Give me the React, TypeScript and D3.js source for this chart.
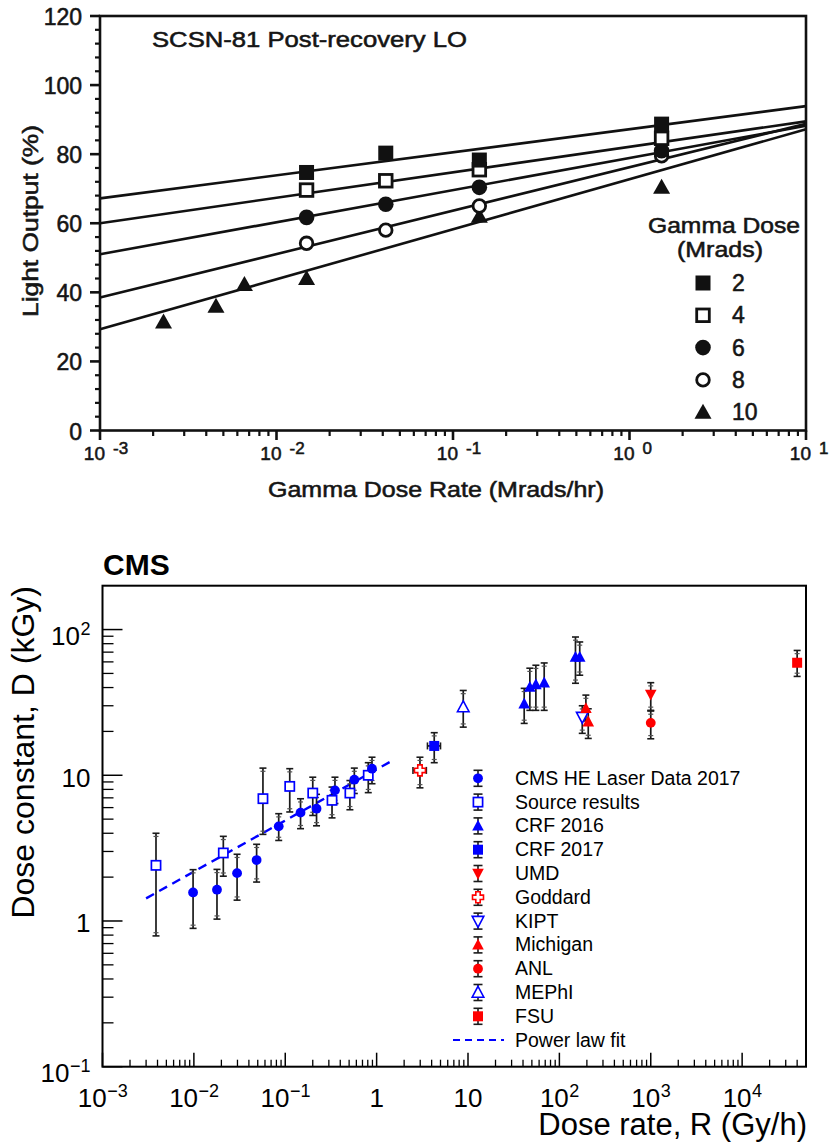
import React from "react";
import * as d3 from "d3";

// ================= TOP PANEL DATA (SCSN-81) =================
const topDoseLabels = ["2", "4", "6", "8", "10"];
const topShapes = ["fsquare", "osquare", "fcircle", "ocircle", "ftriangle"];
const topFitRates = [1e-3, 10];
const topFitLeft = [67.2, 60.0, 51.0, 38.5, 29.3];
const topFitRight = [93.9, 89.5, 88.2, 88.8, 87.2];

const rate2 = [0.0148, 0.0416, 0.141, 1.52];
const lo2 = [74.7, 80.3, 78.3, 88.7];
const rate4 = [0.0148, 0.0416, 0.141, 1.52];
const lo4 = [69.6, 72.3, 75.5, 84.6];
const rate6 = [0.0148, 0.0416, 0.141, 1.52];
const lo6 = [61.7, 65.5, 70.4, 81.0];
const rate8 = [0.0148, 0.0416, 0.141, 1.52];
const lo8 = [54.2, 58.0, 65.0, 79.5];
const rate10 = [0.00229, 0.00454, 0.00658, 0.0148, 0.141, 1.52];
const lo10 = [31.4, 36.0, 42.3, 44.0, 62.0, 70.4];

const topRates = [rate2, rate4, rate6, rate8, rate10];
const topValues = [lo2, lo4, lo6, lo8, lo10];
const topYTicks = [0, 20, 40, 60, 80, 100, 120];
const topXExps = [-3, -2, -1, 0, 1];

// ================= BOTTOM PANEL DATA (CMS) =================
const cmsR = [0.0098, 0.0179, 0.0297, 0.0486, 0.0848, 0.147, 0.22, 0.35, 0.57, 0.89];
const cmsD = [1.57, 1.64, 2.13, 2.62, 4.46, 5.54, 5.9, 7.88, 9.33, 11.1];
const cmsHi = [2.25, 2.26, 2.87, 3.36, 5.45, 6.9, 7.4, 9.7, 11.2, 13.3];
const cmsLo = [0.89, 1.03, 1.39, 1.85, 3.57, 4.3, 4.5, 6.4, 7.5, 8.75];

const srcR = [0.00385, 0.021, 0.057, 0.112, 0.2, 0.325, 0.51, 0.81];
const srcD = [2.41, 2.93, 6.91, 8.39, 7.55, 6.73, 7.55, 10.0];
const srcHi = [4.0, 3.81, 11.2, 11.1, 9.7, 8.3, 9.2, 12.2];
const srcLo = [0.79, 2.03, 3.93, 5.6, 5.3, 5.1, 5.8, 7.6];

const crf16R = [41.2, 47.5, 55.3, 68.2, 150, 167];
const crf16D = [31, 40.3, 42, 43.2, 64.7, 64.7];
const crf16Hi = [39.5, 54.3, 56.9, 59.0, 88.9, 82.2];
const crf16Lo = [22.7, 27.9, 27.9, 27.9, 42.8, 48.6];

const crf17R = [4.27];
const crf17D = [15.9];
const crf17Hi = [19.6];
const crf17Lo = [12.2];
const crf17RLo = [3.6];
const crf17RHi = [5.0];

const umdR = [1000];
const umdD = [35.9];
const umdHi = [43.2];
const umdLo = [27.9];

const goddardR = [2.98];
const goddardD = [10.8];
const goddardHi = [13.3];
const goddardLo = [8.2];
const goddardRLo = [2.5];
const goddardRHi = [3.5];

const kiptR = [178];
const kiptD = [25.1];
const kiptHi = [30.0];
const kiptLo = [19.4];

const michR = [195, 207];
const michD = [28.8, 23.3];
const michHi = [35.5, 28.6];
const michLo = [23.6, 17.9];

const anlR = [1000];
const anlD = [22.9];
const anlHi = [27.6];
const anlLo = [17.8];

const mephiR = [8.87];
const mephiD = [29.4];
const mephiHi = [38.2];
const mephiLo = [21.4];

const fsuR = [40000];
const fsuD = [59.2];
const fsuHi = [71.9];
const fsuLo = [47.7];

const fitR = [0.003, 1.5];
const fitD = [1.43, 12.65];

const legendNames = [
  "CMS HE Laser Data 2017",
  "Source results",
  "CRF 2016",
  "CRF 2017",
  "UMD",
  "Goddard",
  "KIPT",
  "Michigan",
  "ANL",
  "MEPhI",
  "FSU",
  "Power law fit",
];
const legendShapes = [
  "fcircle", "osquare", "ftri", "fsquare", "ftridown", "ocross",
  "otridown", "ftri", "fcircle", "otri", "fsquare", "dash",
];
const legendColors = [
  "#0000ff", "#0000ff", "#0000ff", "#0000ff", "#ff0000", "#ff0000",
  "#0000ff", "#ff0000", "#ff0000", "#0000ff", "#ff0000", "#0000ff",
];
const botXExps = [-3, -2, -1, 0, 1, 2, 3, 4];
const botYExps = [-1, 0, 1, 2];

const FONT = "'Liberation Sans', Arial, Helvetica, sans-serif";

// ---------- helpers ----------
function topMarker(shape: string, x: number, y: number, key: string) {
  const c = "#111";
  switch (shape) {
    case "fsquare":
      return <rect key={key} x={x - 7.5} y={y - 7.5} width={15} height={15} fill={c} />;
    case "osquare":
      return <rect key={key} x={x - 6.3} y={y - 6.3} width={12.6} height={12.6} fill="#fff" stroke={c} strokeWidth={2.8} />;
    case "fcircle":
      return <circle key={key} cx={x} cy={y} r={7.8} fill={c} />;
    case "ocircle":
      return <circle key={key} cx={x} cy={y} r={6.3} fill="#fff" stroke={c} strokeWidth={2.8} />;
    default:
      return <path key={key} d={`M${x},${y - 8.5}L${x + 8.5},${y + 6.5}L${x - 8.5},${y + 6.5}Z`} fill={c} />;
  }
}

function botMarker(shape: string, x: number, y: number, color: string, key: string) {
  const s = 5.2;
  switch (shape) {
    case "fcircle":
      return <circle key={key} cx={x} cy={y} r={4.9} fill={color} />;
    case "osquare":
      return <rect key={key} x={x - 4.6} y={y - 4.6} width={9.2} height={9.2} fill="#fff" stroke={color} strokeWidth={1.7} />;
    case "fsquare":
      return <rect key={key} x={x - 5} y={y - 5} width={10} height={10} fill={color} />;
    case "ftri":
      return <path key={key} d={`M${x},${y - s - 1}L${x + s + 0.6},${y + s - 0.5}L${x - s - 0.6},${y + s - 0.5}Z`} fill={color} />;
    case "otri":
      return <path key={key} d={`M${x},${y - s - 1}L${x + s + 0.6},${y + s - 0.5}L${x - s - 0.6},${y + s - 0.5}Z`} fill="#fff" stroke={color} strokeWidth={1.6} />;
    case "ftridown":
      return <path key={key} d={`M${x},${y + s + 1}L${x + s + 0.6},${y - s + 0.5}L${x - s - 0.6},${y - s + 0.5}Z`} fill={color} />;
    case "otridown":
      return <path key={key} d={`M${x},${y + s + 1}L${x + s + 0.6},${y - s + 0.5}L${x - s - 0.6},${y - s + 0.5}Z`} fill="#fff" stroke={color} strokeWidth={1.6} />;
    case "ocross": {
      const a = 2.2, b = 5.5;
      const d = `M${x - a},${y - b}H${x + a}V${y - a}H${x + b}V${y + a}H${x + a}V${y + b}H${x - a}V${y + a}H${x - b}V${y - a}H${x - a}Z`;
      return <path key={key} d={d} fill="#fff" stroke={color} strokeWidth={1.6} />;
    }
    default:
      return null;
  }
}

function supLabel(e: number) {
  if (e === 0) return { base: "1", exp: "" };
  if (e === 1) return { base: "10", exp: "" };
  return { base: "10", exp: e < 0 ? `\u2212${-e}` : `${e}` };
}

// approximate Liberation Sans advance widths (em)
function textW(s: string, fs: number) {
  let w = 0;
  for (const ch of s) w += ch === "\u2212" ? 0.584 : 0.556;
  return w * fs;
}

export default function App() {
  // ---------- top scales ----------
  const tx = d3.scaleLog().domain([1e-3, 10]).range([100, 806]);
  const ty = d3.scaleLinear().domain([0, 120]).range([430.5, 16]);
  const topLine = d3
    .line<[number, number]>()
    .x((d) => tx(d[0]))
    .y((d) => ty(d[1]));

  const topMinorY = d3.range(0, 121, 4).filter((v) => v % 20 !== 0);
  const topMinorX: number[] = [];
  for (let e = -3; e < 1; e++) for (let m = 2; m <= 9; m++) topMinorX.push(m * Math.pow(10, e));

  // ---------- bottom scales ----------
  const bx = d3.scaleLog().domain([1e-3, 5e4]).range([102.5, 806]);
  const by = d3.scaleLog().domain([0.1, 200]).range([1066.7, 585.7]);
  const fitLine = d3
    .line<number>()
    .x((_, i) => bx(fitR[i]))
    .y((_, i) => by(fitD[i]));

  const botMinorX: number[] = [];
  for (let e = -3; e <= 4; e++)
    for (let m = 2; m <= 9; m++) {
      const v = m * Math.pow(10, e);
      if (v < 5e4) botMinorX.push(v);
    }
  const botMinorY: number[] = [];
  for (let e = -1; e <= 1; e++) for (let m = 2; m <= 9; m++) botMinorY.push(m * Math.pow(10, e));

  type Ser = {
    r: number[]; d: number[]; hi: number[]; lo: number[];
    rlo?: number[]; rhi?: number[]; shape: string; color: string; name: string;
  };
  const series: Ser[] = [
    { r: srcR, d: srcD, hi: srcHi, lo: srcLo, shape: "osquare", color: "#0000ff", name: "src" },
    { r: cmsR, d: cmsD, hi: cmsHi, lo: cmsLo, shape: "fcircle", color: "#0000ff", name: "cms" },
    { r: crf16R, d: crf16D, hi: crf16Hi, lo: crf16Lo, shape: "ftri", color: "#0000ff", name: "crf16" },
    { r: crf17R, d: crf17D, hi: crf17Hi, lo: crf17Lo, rlo: crf17RLo, rhi: crf17RHi, shape: "fsquare", color: "#0000ff", name: "crf17" },
    { r: goddardR, d: goddardD, hi: goddardHi, lo: goddardLo, rlo: goddardRLo, rhi: goddardRHi, shape: "ocross", color: "#ff0000", name: "god" },
    { r: mephiR, d: mephiD, hi: mephiHi, lo: mephiLo, shape: "otri", color: "#0000ff", name: "mephi" },
    { r: kiptR, d: kiptD, hi: kiptHi, lo: kiptLo, shape: "otridown", color: "#0000ff", name: "kipt" },
    { r: michR, d: michD, hi: michHi, lo: michLo, shape: "ftri", color: "#ff0000", name: "mich" },
    { r: umdR, d: umdD, hi: umdHi, lo: umdLo, shape: "ftridown", color: "#ff0000", name: "umd" },
    { r: anlR, d: anlD, hi: anlHi, lo: anlLo, shape: "fcircle", color: "#ff0000", name: "anl" },
    { r: fsuR, d: fsuD, hi: fsuHi, lo: fsuLo, shape: "fsquare", color: "#ff0000", name: "fsu" },
  ];

  const errCol = "#1a1a1a";
  const errorBars = series.flatMap((s) =>
    s.r.map((r, i) => {
      const x = bx(r);
      const yH = by(s.hi[i]);
      const yL = by(s.lo[i]);
      const els = [
        <line key="v" x1={x} x2={x} y1={yH} y2={yL} stroke={errCol} strokeWidth={1.7} />,
        <line key="c1" x1={x - 3.5} x2={x + 3.5} y1={yH} y2={yH} stroke={errCol} strokeWidth={1.6} />,
        <line key="c2" x1={x - 3.5} x2={x + 3.5} y1={yL} y2={yL} stroke={errCol} strokeWidth={1.6} />,
        <line key="i1" x1={x - 2.5} x2={x + 2.5} y1={yH + 3.2} y2={yH + 3.2} stroke="#555" strokeWidth={1.2} />,
        <line key="i2" x1={x - 2.5} x2={x + 2.5} y1={yL - 3.2} y2={yL - 3.2} stroke="#555" strokeWidth={1.2} />,
      ];
      if (s.rlo && s.rhi) {
        const xl = bx(s.rlo[i]);
        const xh = bx(s.rhi[i]);
        const y = by(s.d[i]);
        els.push(
          <line key="h" x1={xl} x2={xh} y1={y} y2={y} stroke={errCol} strokeWidth={1.7} />,
          <line key="hc1" x1={xl} x2={xl} y1={y - 3.5} y2={y + 3.5} stroke={errCol} strokeWidth={1.6} />,
          <line key="hc2" x1={xh} x2={xh} y1={y - 3.5} y2={y + 3.5} stroke={errCol} strokeWidth={1.6} />
        );
      }
      return <g key={`${s.name}-e${i}`}>{els}</g>;
    })
  );
  const markers = series.flatMap((s) =>
    s.r.map((r, i) => botMarker(s.shape, bx(r), by(s.d[i]), s.color, `${s.name}-m${i}`))
  );

  const legX = 478;
  const legY0 = 778.3;
  const legDY = 23.8;

  const scanText = { fill: "#151515", stroke: "#151515", strokeWidth: 0.55 };
  const baseFs = 26;
  const expFs = 18;

  return (
    <svg
      width={829}
      height={1142}
      style={{ position: "absolute", left: 0, top: 0, background: "#fff" }}
      fontFamily={FONT}
    >
      <rect x={0} y={0} width={829} height={1142} fill="#fff" />

      {/* ===================== TOP PANEL ===================== */}
      <g>
        {/* fit lines */}
        {topFitLeft.map((l, i) => (
          <path
            key={`fit${i}`}
            d={topLine([
              [topFitRates[0], l],
              [topFitRates[1], topFitRight[i]],
            ]) || ""}
            fill="none"
            stroke="#111"
            strokeWidth={2.6}
          />
        ))}
        {/* points: draw 10 first so lighter doses are on top */}
        {[4, 3, 2, 1, 0].map((si) =>
          topRates[si].map((r, j) => topMarker(topShapes[si], tx(r), ty(topValues[si][j]), `tp${si}-${j}`))
        )}

        {/* frame */}
        <rect x={100} y={16} width={706} height={414.5} fill="none" stroke="#111" strokeWidth={2.6} />
        {/* y ticks */}
        {topYTicks.map((v) => (
          <g key={`ty${v}`}>
            <line x1={90} x2={100} y1={ty(v)} y2={ty(v)} stroke="#111" strokeWidth={2.6} />
            <text x={82} y={ty(v) + 9} textAnchor="end" fontSize={23} {...scanText}>
              {v}
            </text>
          </g>
        ))}
        {topMinorY.map((v) => (
          <line key={`tmy${v}`} x1={95} x2={100} y1={ty(v)} y2={ty(v)} stroke="#111" strokeWidth={2.2} />
        ))}
        {/* x ticks */}
        {topXExps.map((e) => {
          const x = tx(Math.pow(10, e));
          return (
            <g key={`tx${e}`}>
              <line x1={x} x2={x} y1={430.5} y2={440} stroke="#111" strokeWidth={2.6} />
              <text x={x + 5} y={460} textAnchor="end" fontSize={19} {...scanText}>
                10
              </text>
              <text x={x + 13} y={454} fontSize={17} {...scanText}>
                {e < 0 ? `-${-e}` : `${e}`}
              </text>
            </g>
          );
        })}
        {topMinorX.map((v, i) => (
          <line key={`tmx${i}`} x1={tx(v)} x2={tx(v)} y1={430.5} y2={436} stroke="#111" strokeWidth={2.2} />
        ))}
        {/* titles */}
        <text x={152} y={47} fontSize={22} {...scanText} textLength={315} lengthAdjust="spacingAndGlyphs">
          SCSN-81 Post-recovery LO
        </text>
        <text x={268} y={497} fontSize={22} {...scanText} textLength={336} lengthAdjust="spacingAndGlyphs">
          Gamma Dose Rate (Mrads/hr)
        </text>
        <text
          transform="translate(38,221) rotate(-90)"
          textAnchor="middle"
          fontSize={22}
          {...scanText}
          textLength={192}
          lengthAdjust="spacingAndGlyphs"
        >
          Light Output (%)
        </text>
        {/* legend */}
        <text x={648} y={233} fontSize={22} {...scanText} textLength={152} lengthAdjust="spacingAndGlyphs">
          Gamma Dose
        </text>
        <text x={677} y={257} fontSize={22} {...scanText} textLength={86} lengthAdjust="spacingAndGlyphs">
          (Mrads)
        </text>
        {topDoseLabels.map((lab, i) => {
          const y = 283 + i * 32.3;
          return (
            <g key={`tl${i}`}>
              {topMarker(topShapes[i], 703, y, `tlm${i}`)}
              <text x={732} y={y + 8} fontSize={23} {...scanText}>
                {lab}
              </text>
            </g>
          );
        })}
      </g>

      {/* ===================== BOTTOM PANEL ===================== */}
      <g>
        <text x={103} y={575} fontSize={30} fontWeight="bold" fill="#000">
          CMS
        </text>

        {/* fit line */}
        <path d={fitLine(fitR) || ""} fill="none" stroke="#0000ff" strokeWidth={2.4} strokeDasharray="9,6" />

        {errorBars}
        {markers}

        {/* frame */}
        <rect x={102.5} y={585.7} width={703.5} height={481} fill="none" stroke="#000" strokeWidth={2} />

        {/* y axis ticks */}
        {botYExps.map((e) => {
          const y = by(Math.pow(10, e));
          const lab = supLabel(e);
          const ew = lab.exp ? textW(lab.exp, expFs) : 0;
          const right = 90.5;
          return (
            <g key={`by${e}`}>
              <line x1={102.5} x2={122.5} y1={y} y2={y} stroke="#000" strokeWidth={1.5} />
              <text x={right - ew - (lab.exp ? 0.5 : 0)} y={y + (lab.exp ? 15.5 : 11.5)} textAnchor="end" fontSize={baseFs} fill="#000">
                {lab.base}
              </text>
              {lab.exp ? (
                <text x={right - ew} y={y + 5} fontSize={expFs} fill="#000">
                  {lab.exp}
                </text>
              ) : null}
            </g>
          );
        })}
        {botMinorY.map((v, i) => (
          <line key={`bmy${i}`} x1={102.5} x2={113.5} y1={by(v)} y2={by(v)} stroke="#000" strokeWidth={1.3} />
        ))}

        {/* x axis ticks */}
        {botXExps.map((e) => {
          const x = bx(Math.pow(10, e));
          const lab = supLabel(e);
          const bw = textW(lab.base, baseFs);
          const ew = lab.exp ? textW(lab.exp, expFs) : 0;
          const start = x - (bw + ew) / 2;
          return (
            <g key={`bx${e}`}>
              <line x1={x} x2={x} y1={1066.7} y2={1052.7} stroke="#000" strokeWidth={1.5} />
              <text x={start} y={1106.7} fontSize={baseFs} fill="#000">
                {lab.base}
              </text>
              {lab.exp ? (
                <text x={start + bw + 0.5} y={1096.5} fontSize={expFs} fill="#000">
                  {lab.exp}
                </text>
              ) : null}
            </g>
          );
        })}
        {botMinorX.map((v, i) => (
          <line key={`bmx${i}`} x1={bx(v)} x2={bx(v)} y1={1066.7} y2={1059.7} stroke="#000" strokeWidth={1.3} />
        ))}

        {/* axis titles */}
        <text x={807} y={1135} textAnchor="end" fontSize={31} fill="#000">
          Dose rate, R (Gy/h)
        </text>
        <text transform="translate(34,586) rotate(-90)" textAnchor="end" fontSize={32} fill="#000">
          Dose constant, D (kGy)
        </text>

        {/* legend */}
        {legendNames.map((name, i) => {
          const y = legY0 + i * legDY;
          const shape = legendShapes[i];
          return (
            <g key={`leg${i}`}>
              {shape === "dash" ? (
                <line x1={453} x2={504} y1={y} y2={y} stroke={legendColors[i]} strokeWidth={2} strokeDasharray="7,5" />
              ) : (
                <g>
                  <line x1={legX} x2={legX} y1={y - 8} y2={y + 8} stroke={errCol} strokeWidth={1.6} />
                  <line x1={legX - 4.5} x2={legX + 4.5} y1={y - 8} y2={y - 8} stroke={errCol} strokeWidth={1.6} />
                  <line x1={legX - 4.5} x2={legX + 4.5} y1={y + 8} y2={y + 8} stroke={errCol} strokeWidth={1.6} />
                  {botMarker(shape, legX, y, legendColors[i], `lm${i}`)}
                </g>
              )}
              <text x={515} y={y + 6.5} fontSize={19.5} fill="#000">
                {name}
              </text>
            </g>
          );
        })}
      </g>
    </svg>
  );
}
